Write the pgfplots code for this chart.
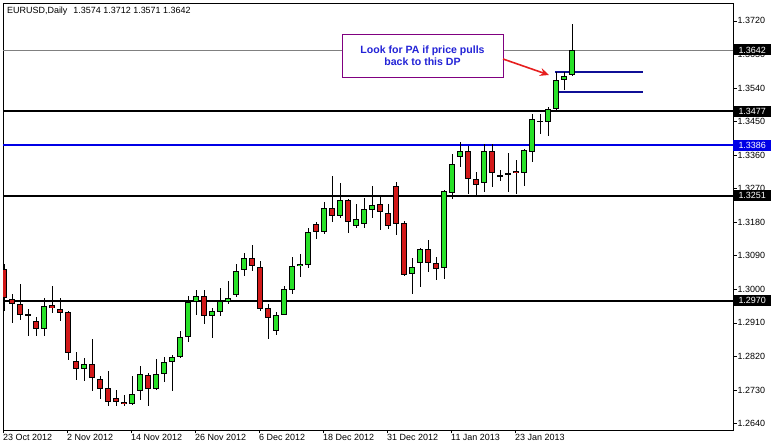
\documentclass[border=0pt]{standalone}
\usepackage{pgfplots}
\pgfplotsset{compat=1.18}
\usepackage{pgfplotstable}
\usepackage{fontspec}
\setmainfont{Liberation Sans}
\usetikzlibrary{arrows.meta}
\definecolor{bull}{RGB}{40,225,40}
\definecolor{bear}{RGB}{210,25,25}
\definecolor{lineblue}{RGB}{0,0,230}
\definecolor{navy}{RGB}{15,15,150}
\definecolor{notepurple}{RGB}{128,0,128}
\definecolor{notetext}{RGB}{35,35,215}
\definecolor{arrowred}{RGB}{230,30,30}
\definecolor{curgray}{RGB}{128,128,128}

\pgfplotstableread{
i o h l c
0 1.3055 1.3069 1.2943 1.2976
1 1.2975 1.2988 1.2909 1.2961
2 1.2961 1.3015 1.2918 1.2932
3 1.2934 1.2948 1.2874 1.2931
4 1.2915 1.2927 1.2874 1.2894
5 1.2894 1.2976 1.2874 1.2956
6 1.2957 1.3010 1.2937 1.2949
7 1.2948 1.2976 1.2915 1.2937
8 1.2940 1.2942 1.2811 1.2828
9 1.2808 1.2833 1.2757 1.2786
10 1.2786 1.2817 1.2755 1.2800
11 1.2800 1.2867 1.2726 1.2762
12 1.2760 1.2767 1.2707 1.2734
13 1.2735 1.2782 1.2686 1.2697
14 1.2708 1.2731 1.2686 1.2697
15 1.2699 1.2717 1.2686 1.2692
16 1.2692 1.2768 1.2690 1.2719
17 1.2726 1.2793 1.2704 1.2773
18 1.2771 1.2776 1.2686 1.2732
19 1.2732 1.2812 1.2730 1.2773
20 1.2773 1.2819 1.2752 1.2805
21 1.2805 1.2825 1.2726 1.2819
22 1.2819 1.2889 1.2817 1.2872
23 1.2871 1.2983 1.2858 1.2965
24 1.2965 1.2999 1.2932 1.2983
25 1.2983 1.2999 1.2907 1.2929
26 1.2929 1.2950 1.2870 1.2943
27 1.2940 1.3004 1.2928 1.2968
28 1.2967 1.3021 1.2961 1.2977
29 1.2986 1.3067 1.2979 1.3049
30 1.3051 1.3098 1.3036 1.3085
31 1.3085 1.3118 1.3049 1.3063
32 1.3060 1.3077 1.2943 1.2948
33 1.2950 1.2961 1.2867 1.2924
34 1.2889 1.2940 1.2878 1.2932
35 1.2932 1.3008 1.2930 1.3001
36 1.2999 1.3088 1.2988 1.3063
37 1.3063 1.3094 1.3033 1.3069
38 1.3066 1.3165 1.3058 1.3155
39 1.3174 1.3180 1.3136 1.3153
40 1.3155 1.3234 1.3149 1.3219
41 1.3219 1.3304 1.3180 1.3197
42 1.3197 1.3286 1.3190 1.3239
43 1.3239 1.3241 1.3152 1.3180
44 1.3170 1.3228 1.3164 1.3188
45 1.3176 1.3246 1.3164 1.3215
46 1.3213 1.3276 1.3191 1.3225
47 1.3228 1.3248 1.3158 1.3208
48 1.3206 1.3228 1.3162 1.3171
49 1.3278 1.3287 1.3147 1.3176
50 1.3179 1.3183 1.3037 1.3039
51 1.3042 1.3083 1.2988 1.3061
52 1.3071 1.3110 1.3006 1.3109
53 1.3109 1.3131 1.3046 1.3071
54 1.3071 1.3088 1.3026 1.3055
55 1.3058 1.3267 1.3028 1.3264
56 1.3259 1.3362 1.3241 1.3337
57 1.3355 1.3396 1.3327 1.3371
58 1.3371 1.3385 1.3257 1.3297
59 1.3297 1.3315 1.3248 1.3281
60 1.3284 1.3391 1.3261 1.3371
61 1.3371 1.3391 1.3275 1.3311
62 1.3305 1.3321 1.3291 1.3303
63 1.3308 1.3366 1.3261 1.3313
64 1.3317 1.3348 1.3257 1.3311
65 1.3311 1.3376 1.3277 1.3373
66 1.3369 1.3471 1.3342 1.3456
67 1.3451 1.3471 1.3416 1.3452
68 1.3448 1.3488 1.3412 1.3483
69 1.3483 1.3582 1.3476 1.3561
70 1.3561 1.3584 1.3534 1.3572
71 1.3574 1.3712 1.3571 1.3642
}\candles

\begin{document}
\begin{tikzpicture}[x=1bp,y=1bp]
\path[use as bounding box] (0,0) rectangle (771,447);
\begin{axis}[
  at={(3bp,17bp)}, anchor=south west, scale only axis,
  width=730bp, height=427bp,
  xmin=-0.125, xmax=91.125, ymin=1.262268, ymax=1.376807,
  axis line style={line width=0.8bp},
  tick align=outside, major tick length=3.5bp,
  xtick pos=left, ytick pos=right, yticklabel pos=right,
  xtick={-0.125,7.875,15.875,23.875,31.875,39.875,47.875,55.875,63.875},
  xticklabels={23 Oct 2012,2 Nov 2012,14 Nov 2012,26 Nov 2012,6 Dec 2012,18 Dec 2012,31 Dec 2012,11 Jan 2013,23 Jan 2013},
  ytick={1.2640,1.2730,1.2820,1.2910,1.3000,1.3090,1.3180,1.3270,1.3360,1.3450,1.3540,1.3630,1.3720},
  scaled y ticks=false,
  tick label style={font=\fontsize{9}{10}\selectfont},
  xticklabel style={anchor=north west, inner sep=0pt, yshift=-1bp},
  yticklabel style={anchor=west, inner sep=1bp, /pgf/number format/.cd, fixed, fixed zerofill, precision=4, assume math mode=true},
  tick style={black, line width=0.6bp},
]
% horizontal levels
\addplot[curgray, line width=0.7bp] coordinates {(-0.125,1.3642) (91.125,1.3642)};
\addplot[black, line width=2bp] coordinates {(-0.125,1.3477) (91.125,1.3477)};
\addplot[lineblue, line width=2bp] coordinates {(-0.125,1.3386) (91.125,1.3386)};
\addplot[black, line width=2bp] coordinates {(-0.125,1.3251) (91.125,1.3251)};
\addplot[black, line width=2bp] coordinates {(-0.125,1.2970) (91.125,1.2970)};
\addplot[navy, line width=1.8bp] coordinates {(68.9,1.3584) (79.9,1.3584)};
\addplot[navy, line width=1.8bp] coordinates {(68.9,1.3530) (79.9,1.3530)};
% wicks
\addplot[draw=none, mark=none, error bars/.cd, y dir=both, y explicit, error mark=none,
  error bar style={draw=black, line width=1bp}]
  table[x=i, y=c, y error plus expr=\thisrow{h}-\thisrow{c}, y error minus expr=\thisrow{c}-\thisrow{l}] {\candles};
% body outlines
\addplot[draw=none, mark=none, error bars/.cd, y dir=both, y explicit, error mark=none,
  error bar style={draw=black, line width=6bp}]
  table[x=i, y expr={(\thisrow{o}+\thisrow{c})/2}, y error expr={max(abs(\thisrow{o}-\thisrow{c})/2,0.00014)}] {\candles};
% bullish fill
\addplot[draw=none, mark=none, error bars/.cd, y dir=both, y explicit, error mark=none,
  error bar style={draw=bull, line width=4bp}]
  table[x=i, y expr={(\thisrow{o}+\thisrow{c})/2}, y error expr={(\thisrow{c}>\thisrow{o})*max(abs(\thisrow{o}-\thisrow{c})/2-0.00027,0)}] {\candles};
% bearish fill
\addplot[draw=none, mark=none, error bars/.cd, y dir=both, y explicit, error mark=none,
  error bar style={draw=bear, line width=4bp}]
  table[x=i, y expr={(\thisrow{o}+\thisrow{c})/2}, y error expr={(\thisrow{o}>\thisrow{c})*max(abs(\thisrow{o}-\thisrow{c})/2-0.00027,0)}] {\candles};
\coordinate (p1) at (axis cs:91.125,1.3642);
\coordinate (p2) at (axis cs:91.125,1.3477);
\coordinate (p3) at (axis cs:91.125,1.3386);
\coordinate (p4) at (axis cs:91.125,1.3251);
\coordinate (p5) at (axis cs:91.125,1.2970);
\end{axis}
\tikzset{pricebox/.style={anchor=west, fill=black, text=white, inner sep=0pt, minimum height=11bp, minimum width=38bp, font=\fontsize{9}{10}\selectfont}}
\node[pricebox] at (p1) {1.3642};
\node[pricebox] at (p2) {1.3477};
\node[pricebox, fill=lineblue] at (p3) {1.3386};
\node[pricebox] at (p4) {1.3251};
\node[pricebox] at (p5) {1.2970};
% title
\node[anchor=west, inner sep=0pt, font=\fontsize{9}{10}\selectfont] at (7,436) {EURUSD,Daily\hspace{6bp}1.3574 1.3712 1.3571 1.3642};
% annotation
\draw[notepurple, line width=0.9bp, fill=white] (342,413) rectangle (503,370);
\node[align=center, text=notetext, font=\fontsize{10.6}{12.5}\selectfont\bfseries] at (422.5,391.5) {Look for PA if price pulls\\back to this DP};
\draw[arrowred, line width=1.6bp, -{Stealth[length=9bp,width=8bp]}] (503,388) -- (549,372);
\end{tikzpicture}
\end{document}
